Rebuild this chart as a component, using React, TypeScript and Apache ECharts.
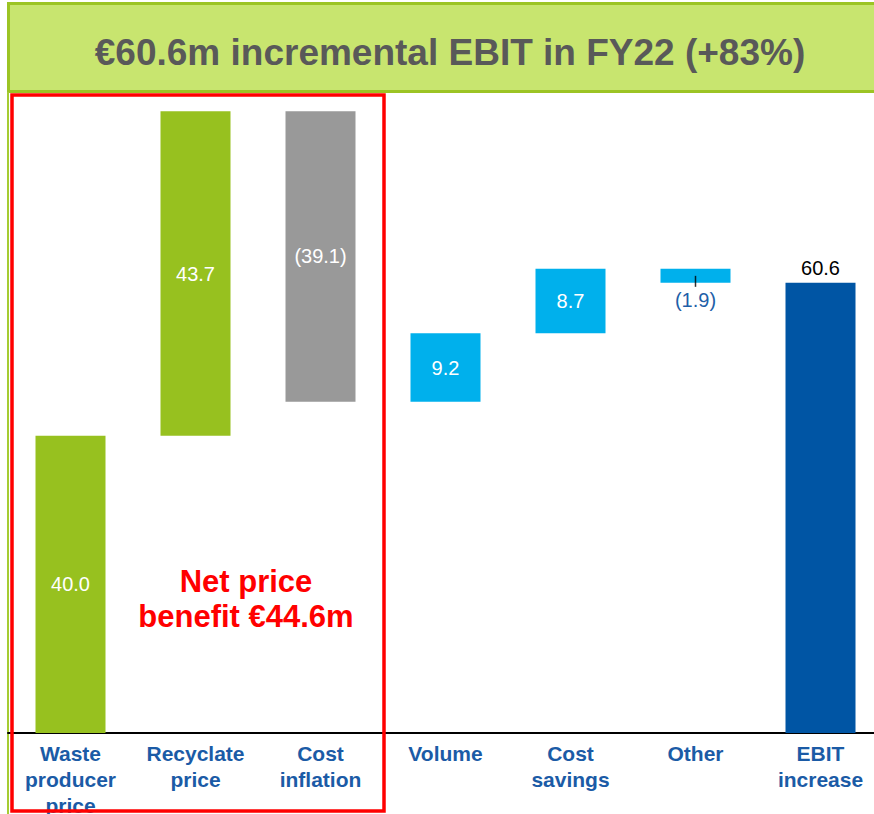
import React, { useEffect, useRef } from "react";
import * as echarts from "echarts";

const categories = [
  "Waste\nproducer\nprice",
  "Recyclate\nprice",
  "Cost\ninflation",
  "Volume",
  "Cost\nsavings",
  "Other",
  "EBIT\nincrease",
];
const deltas = [40.0, 43.7, -39.1, 9.2, 8.7, -1.9, 60.6];
const isTotal = [false, false, false, false, false, false, true];
const barColors = ["#97c11f", "#97c11f", "#999999", "#00b0ec", "#00b0ec", "#00b0ec", "#0055a4"];
const labelPositions = ["inside", "inside", "inside", "inside", "inside", "bottom", "top"];
const labelColors = ["#ffffff", "#ffffff", "#ffffff", "#ffffff", "#ffffff", "#1f5fa8", "#000000"];
const otherTickValue = 60.8;
const titleText = "€60.6m incremental EBIT in FY22 (+83%)";
const boxText = "Net price\nbenefit €44.6m";

export default function App() {
  const ref = useRef<HTMLDivElement>(null);
  useEffect(() => {
    if (!ref.current) return;
    const chart = echarts.init(ref.current, null, { renderer: "svg" });
    const bases: number[] = [];
    const sizes: number[] = [];
    let running = 0;
    deltas.forEach((d, i) => {
      if (isTotal[i]) {
        bases.push(0);
        sizes.push(d);
        running = d;
      } else if (d >= 0) {
        bases.push(running);
        sizes.push(d);
        running += d;
      } else {
        running += d;
        bases.push(running);
        sizes.push(-d);
      }
    });
    const fmt = (v: number) => (v < 0 ? `(${Math.abs(v).toFixed(1)})` : v.toFixed(1));
    const font = "Arial, 'Liberation Sans', sans-serif";
    chart.setOption({
      animation: false,
      textStyle: { fontFamily: font },
      title: {
        text: titleText,
        left: 445,
        top: 29,
        textAlign: "center",
        textStyle: { fontSize: 37, fontWeight: "bold", color: "#595959", fontFamily: font },
      },
      grid: {
        left: 8,
        width: 875,
        top: 109,
        height: 624,
        containLabel: false,
        outerBoundsMode: "none",
      },
      xAxis: {
        type: "category",
        data: categories,
        axisLine: { show: true, lineStyle: { color: "#000000", width: 2 } },
        axisTick: { show: false },
        axisLabel: {
          interval: 0,
          margin: 7,
          fontSize: 21,
          fontWeight: "bold",
          lineHeight: 26,
          color: "#1b5ba6",
          fontFamily: font,
          verticalAlign: "top",
        },
      },
      yAxis: { type: "value", min: 0, max: 84, show: false, splitLine: { show: false } },
      graphic: [
        {
          type: "rect",
          shape: { x: 8.5, y: 3.5, width: 880, height: 88 },
          style: { fill: "#c8e56f", stroke: "#9cc424", lineWidth: 3 },
          z: 0,
        },
        {
          type: "line",
          shape: { x1: 8, y1: 92, x2: 8, y2: 814 },
          style: { stroke: "#a5cc33", lineWidth: 2 },
        },
        {
          type: "rect",
          shape: { x: 12, y: 95, width: 372, height: 716 },
          style: { fill: "none", stroke: "#ff0000", lineWidth: 3.5 },
          z: 10,
        },
        {
          type: "text",
          x: 246,
          y: 599,
          style: {
            text: boxText,
            fill: "#ff0000",
            fontSize: 31,
            fontWeight: "bold",
            fontFamily: font,
            lineHeight: 35,
            align: "center",
            verticalAlign: "middle",
          },
        },
      ],
      series: [
        {
          type: "bar",
          stack: "w",
          barWidth: 70,
          itemStyle: { color: "transparent" },
          data: bases,
          silent: true,
        },
        {
          type: "bar",
          stack: "w",
          barWidth: 70,
          data: sizes.map((s, i) => ({
            value: s,
            itemStyle: { color: barColors[i] },
            label: {
              show: true,
              position: labelPositions[i],
              distance: i === 5 ? 7 : 5,
              color: labelColors[i],
              fontSize: 20,
              fontFamily: font,
              formatter: () => fmt(deltas[i]),
            },
          })),
        },
        {
          type: "scatter",
          symbol: "rect",
          symbolSize: [1.5, 11],
          itemStyle: { color: "#000000" },
          data: [[5, otherTickValue]],
          z: 5,
        },
      ],
    });
    return () => chart.dispose();
  }, []);
  return (
    <div
      ref={ref}
      style={{ position: "fixed", left: 0, top: 0, width: 874, height: 814, background: "#ffffff" }}
    />
  );
}
